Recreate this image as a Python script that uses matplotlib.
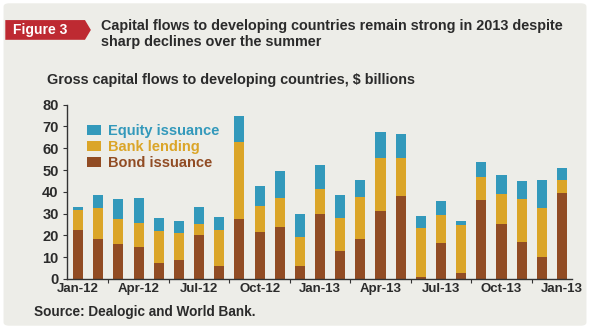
import numpy as np
import matplotlib
matplotlib.use('Agg')
import matplotlib.pyplot as plt
from matplotlib.patches import FancyBboxPatch, Polygon

plt.rcParams['font.family'] = ['Liberation Sans', 'DejaVu Sans']

# Monthly gross flows, Jan-12 .. Jan-14 ($ billions)
bond = [22.5, 18.4, 16.1, 14.7, 7.4, 8.7, 20.2, 6.0, 27.6, 21.6, 23.9, 6.0,
        29.9, 12.9, 18.4, 31.2, 38.1, 0.9, 16.5, 2.8, 36.3, 25.3, 17.0, 10.1, 39.5]
bank = [9.2, 14.2, 11.5, 11.0, 14.7, 12.4, 5.1, 16.5, 35.3, 11.9, 13.3, 13.3,
        11.4, 15.1, 19.3, 24.4, 17.5, 22.5, 12.9, 22.0, 10.6, 13.8, 19.8, 22.5, 6.0]
equity = [1.4, 6.0, 9.2, 11.5, 5.9, 5.5, 7.8, 6.0, 12.0, 9.2, 12.4, 10.6,
          11.1, 10.6, 7.8, 11.9, 11.0, 5.5, 6.4, 1.8, 6.9, 8.7, 8.2, 12.9, 5.5]
tick_labels = ['Jan-12', 'Apr-12', 'Jul-12', 'Oct-12', 'Jan-13',
               'Apr-13', 'Jul-13', 'Oct-13', 'Jan-13']

c_bond = '#914C24'
c_bank = '#DBA528'
c_equity = '#3399BB'
c_text = '#2B2B2B'
bg = '#EDEDE8'

fig = plt.figure(figsize=(5.9, 3.29), dpi=100)
fig.patch.set_facecolor('white')
fig.patches.append(FancyBboxPatch((0.006, 0.01), 0.988, 0.98,
                                  boxstyle='round,pad=0,rounding_size=0.01',
                                  transform=fig.transFigure, facecolor=bg,
                                  edgecolor='none', zorder=-5))

# red "Figure 3" tag with pointed right end
tag = Polygon([(0.009, 0.939), (0.144, 0.939), (0.154, 0.909),
               (0.144, 0.879), (0.009, 0.879)], closed=True,
              transform=fig.transFigure, facecolor='#BE2A32', edgecolor='none')
fig.patches.append(tag)
fig.text(0.022, 0.909, 'Figure 3', color='white', fontsize=10,
         fontweight='bold', va='center', ha='left')
fig.text(0.171, 0.942, 'Capital flows to developing countries remain strong in 2013 despite\n'
         'sharp declines over the summer', color=c_text, fontsize=10.4,
         fontweight='bold', va='top', ha='left', linespacing=1.2)
fig.text(0.080, 0.757, 'Gross capital flows to developing countries, $ billions',
         color=c_text, fontsize=10.4, fontweight='bold', va='center', ha='left')
fig.text(0.057, 0.052, 'Source: Dealogic and World Bank.', color=c_text,
         fontsize=9.8, fontweight='bold', va='center', ha='left')

ax = fig.add_axes([0.1136, 0.152, 0.856, 0.530])
ax.set_facecolor('none')

x = np.arange(len(bond))
bond = np.array(bond)
bank = np.array(bank)
equity = np.array(equity)
w = 0.5
ax.bar(x, bond, w, color=c_bond, label='Bond issuance', zorder=2)
ax.bar(x, bank, w, bottom=bond, color=c_bank, label='Bank lending', zorder=2)
ax.bar(x, equity, w, bottom=bond + bank, color=c_equity, label='Equity issuance', zorder=2)

ax.set_xlim(-0.55, 24.5)
ax.set_ylim(0, 80)
ax.set_yticks(np.arange(0, 81, 10))
ax.set_xticks(np.arange(0, 25, 3))
ax.set_xticklabels(tick_labels)
# small marks between quarters
ax.set_xticks(np.arange(1.5, 24, 3), minor=True)

for s in ['top', 'right']:
    ax.spines[s].set_visible(False)
for s in ['left', 'bottom']:
    ax.spines[s].set_color('#333333')
    ax.spines[s].set_linewidth(1.0)

ax.tick_params(axis='y', length=3, width=0.8, color='#333333', pad=3,
               labelsize=10.5, labelcolor=c_text)
ax.tick_params(axis='x', which='major', length=0, pad=3,
               labelsize=9.5, labelcolor=c_text)
ax.tick_params(axis='x', which='minor', length=3, width=0.8, color='#333333')
for lab in ax.get_xticklabels() + ax.get_yticklabels():
    lab.set_fontweight('bold')

handles, labels = ax.get_legend_handles_labels()
leg = ax.legend(handles[::-1], labels[::-1], loc='upper left',
                bbox_to_anchor=(0.013, 0.965), frameon=False,
                handlelength=1.0, handleheight=0.7, handletextpad=0.45,
                labelspacing=0.15, prop={'weight': 'bold', 'size': 10.5})
for txt, col in zip(leg.get_texts(), [c_equity, c_bank, c_bond]):
    txt.set_color(col)

fig.savefig('out.png', dpi=100, facecolor=fig.get_facecolor())
